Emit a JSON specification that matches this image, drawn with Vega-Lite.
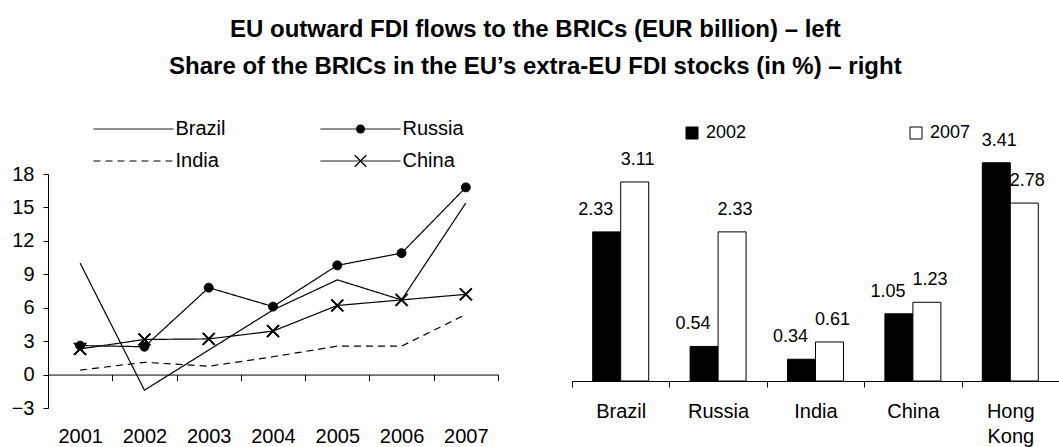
{
  "$schema": "https://vega.github.io/schema/vega-lite/v6.json",
  "background": "white",
  "padding": {"left": 11, "top": 18, "right": 0, "bottom": 0},
  "autosize": {"type": "pad"},
  "config": {
    "font": "Liberation Sans",
    "view": {"stroke": null},
    "axis": {"grid": false, "domainColor": "black", "tickColor": "black", "labelColor": "black", "labelFont": "Liberation Sans", "domainWidth": 1, "tickWidth": 1},
    "legend": {"labelFont": "Liberation Sans", "labelColor": "black"}
  },
  "title": {
    "text": ["EU outward FDI flows to the BRICs (EUR billion) – left", "Share of the BRICs in the EU’s extra-EU FDI stocks (in %) – right"],
    "fontSize": 24, "fontWeight": "bold", "font": "Liberation Sans", "lineHeight": 37, "anchor": "middle", "offset": 40, "color": "black"
  },
  "bounds": "flush",
  "spacing": 74,
  "datasets": {
    "flows": [
      {"year": "2001", "country": "Brazil", "value": 10.0},
      {"year": "2002", "country": "Brazil", "value": -1.4},
      {"year": "2003", "country": "Brazil", "value": 2.2},
      {"year": "2004", "country": "Brazil", "value": 5.8},
      {"year": "2005", "country": "Brazil", "value": 8.5},
      {"year": "2006", "country": "Brazil", "value": 6.7},
      {"year": "2007", "country": "Brazil", "value": 15.4},
      {"year": "2001", "country": "Russia", "value": 2.6},
      {"year": "2002", "country": "Russia", "value": 2.5},
      {"year": "2003", "country": "Russia", "value": 7.8},
      {"year": "2004", "country": "Russia", "value": 6.1},
      {"year": "2005", "country": "Russia", "value": 9.8},
      {"year": "2006", "country": "Russia", "value": 10.9},
      {"year": "2007", "country": "Russia", "value": 16.8},
      {"year": "2001", "country": "India", "value": 0.4},
      {"year": "2002", "country": "India", "value": 1.1},
      {"year": "2003", "country": "India", "value": 0.75},
      {"year": "2004", "country": "India", "value": 1.6},
      {"year": "2005", "country": "India", "value": 2.55},
      {"year": "2006", "country": "India", "value": 2.55},
      {"year": "2007", "country": "India", "value": 5.4},
      {"year": "2001", "country": "China", "value": 2.3},
      {"year": "2002", "country": "China", "value": 3.15},
      {"year": "2003", "country": "China", "value": 3.2},
      {"year": "2004", "country": "China", "value": 3.9},
      {"year": "2005", "country": "China", "value": 6.2},
      {"year": "2006", "country": "China", "value": 6.7},
      {"year": "2007", "country": "China", "value": 7.2}
    ],
    "shares": [
      {"country": "Brazil", "year": "2002", "share": 2.33},
      {"country": "Brazil", "year": "2007", "share": 3.11},
      {"country": "Russia", "year": "2002", "share": 0.54},
      {"country": "Russia", "year": "2007", "share": 2.33},
      {"country": "India", "year": "2002", "share": 0.34},
      {"country": "India", "year": "2007", "share": 0.61},
      {"country": "China", "year": "2002", "share": 1.05},
      {"country": "China", "year": "2007", "share": 1.23},
      {"country": "Hong Kong", "year": "2002", "share": 3.41},
      {"country": "Hong Kong", "year": "2007", "share": 2.78}
    ]
  },
  "hconcat": [
    {
      "width": 450,
      "height": 234,
      "data": {"name": "flows"},
      "encoding": {
        "x": {
          "field": "year", "type": "ordinal",
          "scale": {"paddingInner": 0, "paddingOuter": 0},
          "axis": {"title": null, "orient": "bottom", "offset": -33.43, "tickBand": "extent", "tickSize": 6, "labelPadding": 46, "labelFontSize": 20, "labelAngle": 0}
        },
        "y": {
          "field": "value", "type": "quantitative",
          "scale": {"domain": [-3, 18], "nice": false, "zero": false},
          "axis": {"title": null, "values": [-3, 0, 3, 6, 9, 12, 15, 18], "tickSize": 5, "labelPadding": 9, "labelFontSize": 20}
        }
      },
      "layer": [
        {
          "mark": {"type": "line", "color": "black", "strokeWidth": 1.2},
          "encoding": {
            "detail": {"field": "country"},
            "strokeDash": {
              "field": "country", "type": "nominal",
              "sort": ["Brazil", "Russia", "India", "China"],
              "scale": {"range": [[1, 0], [1, 0], [7, 5], [1, 0]]},
              "legend": {"orient": "none", "legendX": 41, "legendY": -55, "direction": "horizontal", "columns": 2, "title": null, "symbolType": "M-8.944,0L8.944,0", "symbolSize": 80, "symbolStrokeWidth": 1, "symbolStrokeColor": "black", "symbolOffset": 34.5, "labelOffset": 32, "labelFontSize": 20, "columnPadding": 90, "rowPadding": 12}
            }
          }
        },
        {
          "transform": [{"filter": "datum.country == 'Russia' || datum.country == 'China'"}],
          "mark": {"type": "point", "filled": true, "color": "black", "stroke": "black", "strokeWidth": 1, "size": 80, "opacity": 1},
          "encoding": {
            "shape": {
              "field": "country", "type": "nominal",
              "scale": {"domain": ["Brazil", "Russia", "India", "China"], "range": ["M0,0", "circle", "M0,0", "M0,-0.2L1.2,-1.4L1.4,-1.2L0.2,0L1.4,1.2L1.2,1.4L0,0.2L-1.2,1.4L-1.4,1.2L-0.2,0L-1.4,-1.2L-1.2,-1.4Z"]},
              "legend": {
                "orient": "none", "legendX": 41, "legendY": -55, "direction": "horizontal", "columns": 2, "title": null, "symbolSize": 80, "symbolStrokeWidth": 1, "symbolStrokeColor": "black", "symbolFillColor": "black", "symbolOffset": 34.5, "labelOffset": 32, "labelFontSize": 20, "labelColor": "transparent", "columnPadding": 90, "rowPadding": 12,
                "encode": {"symbols": {"update": {"stroke": {"value": "black"}, "strokeWidth": {"value": 1}, "fill": {"value": "black"}, "opacity": {"value": 1}}}}
              }
            }
          }
        }
      ]
    },
    {
      "width": 487,
      "height": 207,
      "data": {"name": "shares"},
      "encoding": {
        "x": {
          "field": "country", "type": "nominal", "sort": ["Brazil", "Russia", "India", "China", "Hong Kong"],
          "scale": {"paddingInner": 0, "paddingOuter": 0},
          "axis": {"title": null, "tickBand": "extent", "tickSize": 6, "labelPadding": 14, "labelFontSize": 20, "labelAngle": 0, "labelLineHeight": 25, "labelExpr": "datum.label == 'Hong Kong' ? ['Hong', 'Kong'] : datum.label"}
        },
        "xOffset": {"field": "year", "type": "nominal", "scale": {"paddingInner": 0, "paddingOuter": 0.74}},
        "y": {
          "field": "share", "type": "quantitative",
          "scale": {"domain": [0, 3.234375], "nice": false},
          "axis": null
        }
      },
      "layer": [
        {
          "mark": {"type": "bar", "stroke": "black", "strokeWidth": 1},
          "encoding": {
            "fill": {
              "field": "year", "type": "nominal",
              "scale": {"domain": ["2002", "2007"], "range": ["black", "white"]},
              "legend": {"orient": "none", "legendX": 635, "legendY": -50, "direction": "horizontal", "columns": 2, "title": null, "symbolType": "square", "symbolSize": 144, "symbolStrokeColor": "black", "symbolStrokeWidth": 1, "labelFontSize": 18, "labelOffset": 5, "columnPadding": 160}
            }
          }
        },
        {
          "transform": [{"filter": "datum.year == '2007' || datum.country == 'Hong Kong'"}],
          "mark": {"type": "text", "fontSize": 18, "baseline": "middle", "dy": -22, "dx": 3, "color": "black"},
          "encoding": {"text": {"field": "share", "type": "quantitative", "format": ".2f"}}
        },
        {
          "transform": [{"filter": "datum.year == '2002' && datum.country != 'Hong Kong'"}],
          "mark": {"type": "text", "fontSize": 18, "baseline": "middle", "dy": -22, "dx": -11, "color": "black"},
          "encoding": {"text": {"field": "share", "type": "quantitative", "format": ".2f"}}
        }
      ]
    }
  ]
}
